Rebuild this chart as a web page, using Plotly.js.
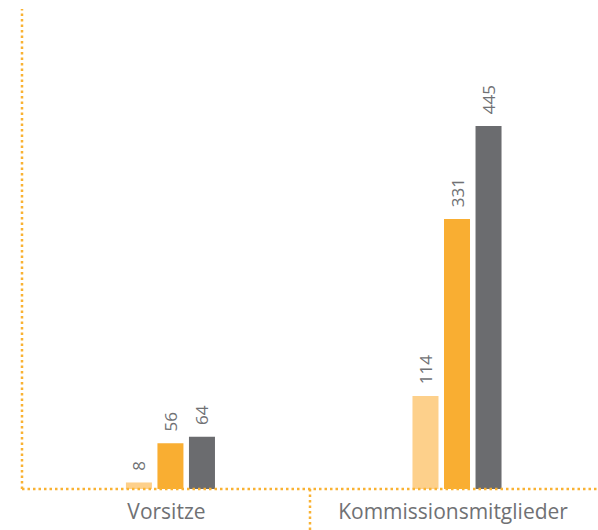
<!DOCTYPE html>
<html>
<head>
<meta charset="utf-8">
<script src="https://cdn.plot.ly/plotly-3.0.1.min.js"></script>
<style>html,body{margin:0;padding:0;background:#fff;}#chart{width:598px;height:530px;}</style>
</head>
<body>
<div id="chart"></div>
<script>
const categories = ["Vorsitze", "Kommissionsmitglieder"];
const series1 = [8, 114];
const series2 = [56, 331];
const series3 = [64, 445];

const colors = ["#FDD08B", "#F9AE32", "#6B6C6F"];
const textColor = "#707174";
const dotColor = "#F9B233";
const pad = "\u00A0\u00A0";

function mk(vals, color) {
  return {
    type: "bar",
    x: categories,
    y: vals,
    marker: {color: color},
    text: vals.map(v => pad + v),
    textposition: "outside",
    textangle: -90,
    constraintext: "none",
    cliponaxis: false,
    textfont: {family: "Open Sans", size: 17, color: textColor},
    hoverinfo: "skip"
  };
}

const data = [mk(series1, colors[0]), mk(series2, colors[1]), mk(series3, colors[2])];

const dotLine = {color: dotColor, width: 2.5, dash: "2.5px,3px"};

const layout = {
  width: 598,
  height: 530,
  margin: {l: 22, r: 0, t: 9, b: 41},
  paper_bgcolor: "#fff",
  plot_bgcolor: "#fff",
  showlegend: false,
  barmode: "group",
  bargap: 0.67,
  bargroupgap: 0.175,
  font: {family: "Open Sans", color: textColor},
  xaxis: {
    type: "category",
    range: [-0.518, 1.492],
    showgrid: false,
    zeroline: false,
    showline: false,
    ticks: "",
    ticklabelshift: -4,
    ticklabelstandoff: 8,
    tickfont: {family: "Open Sans", size: 21, color: textColor},
    fixedrange: true
  },
  yaxis: {
    range: [0, 588.4],
    showgrid: false,
    zeroline: false,
    showline: false,
    showticklabels: false,
    ticks: "",
    fixedrange: true
  },
  shapes: [
    {type: "line", xref: "paper", yref: "paper", x0: 0, x1: 0, y0: 0, y1: 1, line: dotLine},
    {type: "line", xref: "paper", yref: "paper", x0: 0, x1: 1, y0: 0, y1: 0, line: dotLine},
    {type: "line", xref: "paper", yref: "paper", x0: 0.5, x1: 0.5, y0: 0, y1: -0.09, line: dotLine}
  ]
};

Plotly.newPlot("chart", data, layout, {staticPlot: true, displayModeBar: false});
</script>
</body>
</html>
